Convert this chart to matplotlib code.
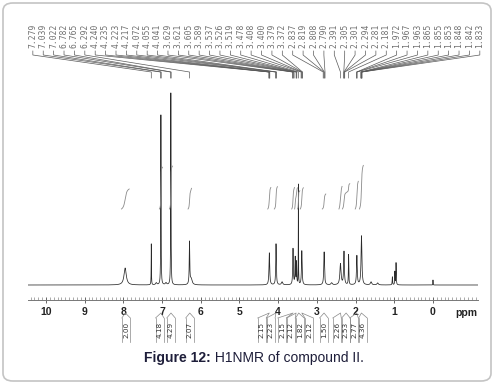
import numpy as np
import matplotlib
matplotlib.use("Agg")
import matplotlib.pyplot as plt
from matplotlib.patches import FancyBboxPatch

# ---------------- data ----------------
peak_ppm = [7.955, 7.279, 7.15, 7.031, 6.90, 6.774, 6.292, 6.25, 4.229, 4.056, 3.90,
            3.617, 3.560, 3.526, 3.478, 3.390, 2.813, 2.62, 2.391, 2.300, 2.181,
            1.967, 1.848, 1.60, 1.43, 1.05, 0.985, 0.955, 0.0]
peak_height = [17, 41, 2, 170, 2, 192, 42, 6, 32, 41, 3,
               36, 27, 22, 100, 34, 33, 2, 21, 33, 30,
               29, 49, 3, 2, 8, 13, 22, 5]
peak_hwhm = [0.035, 0.004, 0.02, 0.005, 0.02, 0.005, 0.008, 0.03, 0.011, 0.009, 0.02,
             0.009, 0.008, 0.006, 0.003, 0.010, 0.011, 0.02, 0.018, 0.011, 0.006,
             0.011, 0.013, 0.02, 0.02, 0.006, 0.005, 0.006, 0.003]

shift_labels = ["7.279", "7.039", "7.022", "6.782", "6.765", "6.292", "4.240", "4.235",
                "4.223", "4.217", "4.072", "4.055", "4.041", "3.629", "3.621", "3.605",
                "3.589", "3.537", "3.526", "3.519", "3.478", "3.408", "3.400", "3.379",
                "3.372", "2.837", "2.819", "2.808", "2.790", "2.391", "2.305", "2.301",
                "2.294", "2.281", "2.181", "1.972", "1.967", "1.963", "1.865", "1.855",
                "1.853", "1.848", "1.842", "1.833"]

integral_values = ["2.00", "4.18", "4.29", "2.07", "2.15", "2.23", "2.15", "2.12",
                   "1.82", "2.12", "1.50", "2.26", "2.53", "2.77", "4.36"]
integral_start = [8.05, 7.07, 6.81, 6.33, 4.27, 4.10, 3.65, 3.575, 3.50, 3.43, 2.86, 2.43, 2.34, 2.01, 1.90]
integral_end = [7.85, 6.99, 6.73, 6.24, 4.19, 4.02, 3.58, 3.50, 3.44, 3.35, 2.77, 2.35, 2.15, 1.93, 1.80]
integral_label_ppm = [7.93, 7.06, 6.77, 6.28, 4.42, 4.19, 3.90, 3.67, 3.44, 3.20, 2.82, 2.48, 2.25, 2.04, 1.81]

x_ticks = [10, 9, 8, 7, 6, 5, 4, 3, 2, 1, 0]

# ---------------- figure ----------------
W, H = 494, 384
fig = plt.figure(figsize=(W / 100, H / 100), dpi=100)
fig.patch.set_facecolor("white")

border = FancyBboxPatch((3 / W, 3 / H), (W - 6) / W, (H - 6) / H,
                        boxstyle="round,pad=0,rounding_size=0.02",
                        transform=fig.transFigure, fc="none", ec="#c4c4c4", lw=1.2)
fig.patches.append(border)

ax = fig.add_axes([28 / W, 84 / H, 450 / W, 290 / H])
ax.set_xlim(10.465, -1.163)
ax.set_ylim(-15, 275)
for s in ["top", "left", "right"]:
    ax.spines[s].set_visible(False)
ax.spines["bottom"].set_color("#777777")
ax.spines["bottom"].set_linewidth(0.7)
ax.set_yticks([])
ax.set_xticks(x_ticks)
ax.set_xticklabels([str(t) for t in x_ticks], fontsize=7.5, fontweight="bold",
                   family="Liberation Sans", color="#222222")
ax.set_xticks(np.arange(-1.1, 10.45, 0.1), minor=True)
ax.tick_params(axis="x", which="major", direction="inout", length=5, width=0.7,
               color="#666666", pad=2.5)
ax.tick_params(axis="x", which="minor", direction="in", length=2, width=0.5,
               color="#888888")
ax.text(-0.85, -28, "ppm", fontsize=7.5, fontweight="bold", family="Liberation Sans",
        color="#222222", ha="center", va="center", clip_on=False)

# spectrum (sum of Lorentzians through peak list)
x = np.linspace(10.465, -1.163, 40000)
y = np.zeros_like(x)
for p, h, w in zip(peak_ppm, peak_height, peak_hwhm):
    y += h / (1 + ((x - p) / w) ** 2)
ax.plot(x, y, color="#2a2a2a", lw=0.55)

# integral curves
for s, e, v in zip(integral_start, integral_end, integral_values):
    m = (x <= s) & (x >= e)
    cum = np.cumsum(y[m])
    cum = cum / cum[-1] * float(v) * 10
    ax.plot(x[m], 76 + cum, color="#8a8a8a", lw=0.6)

# peak-shift labels and connectors
n = len(shift_labels)
lab_x = np.linspace(10.34, -1.21, n)
label_ppm = [float(t) for t in shift_labels]
for lx, px, t in zip(lab_x, label_ppm, shift_labels):
    ax.text(lx, 237, t, rotation=90, ha="center", va="bottom", fontsize=5.8,
            family="DejaVu Sans Mono", color="#707070", clip_on=False)
    ax.plot([lx, lx, px, px], [234, 230, 213, 207], color="#5a5a5a", lw=0.5,
            clip_on=False)

# integration value labels under the axis
for lx, rx, t in zip(integral_label_ppm, [0.5 * (a + b) for a, b in zip(integral_start, integral_end)],
                     integral_values):
    ax.text(lx, -45, t, rotation=90, ha="center", va="center", fontsize=5.2,
            family="DejaVu Sans", color="#333333", clip_on=False)
    hw = 0.11
    ax.plot([lx - hw, lx - hw], [-33, -57], color="#888888", lw=0.5, clip_on=False)
    ax.plot([lx + hw, lx + hw], [-33, -57], color="#888888", lw=0.5, clip_on=False)
    ax.plot([lx - hw, rx, lx + hw], [-33, -28, -33], color="#888888", lw=0.5,
            clip_on=False)

# caption
r = fig.canvas.get_renderer()
cap_y = (H - 358) / H
t1 = fig.text(0, cap_y, "Figure 12:", fontsize=10, fontweight="bold",
              family="Liberation Sans", color="#1e1e3a", va="center", ha="left")
t2 = fig.text(0, cap_y, " H1NMR of compound II.", fontsize=10,
              family="Liberation Sans", color="#1e1e3a", va="center", ha="left")
w1 = t1.get_window_extent(r).width
w2 = t2.get_window_extent(r).width
x0 = (254 - (w1 + w2) / 2)
t1.set_x(x0 / W)
t2.set_x((x0 + w1) / W)

fig.savefig("out.png", dpi=100)
